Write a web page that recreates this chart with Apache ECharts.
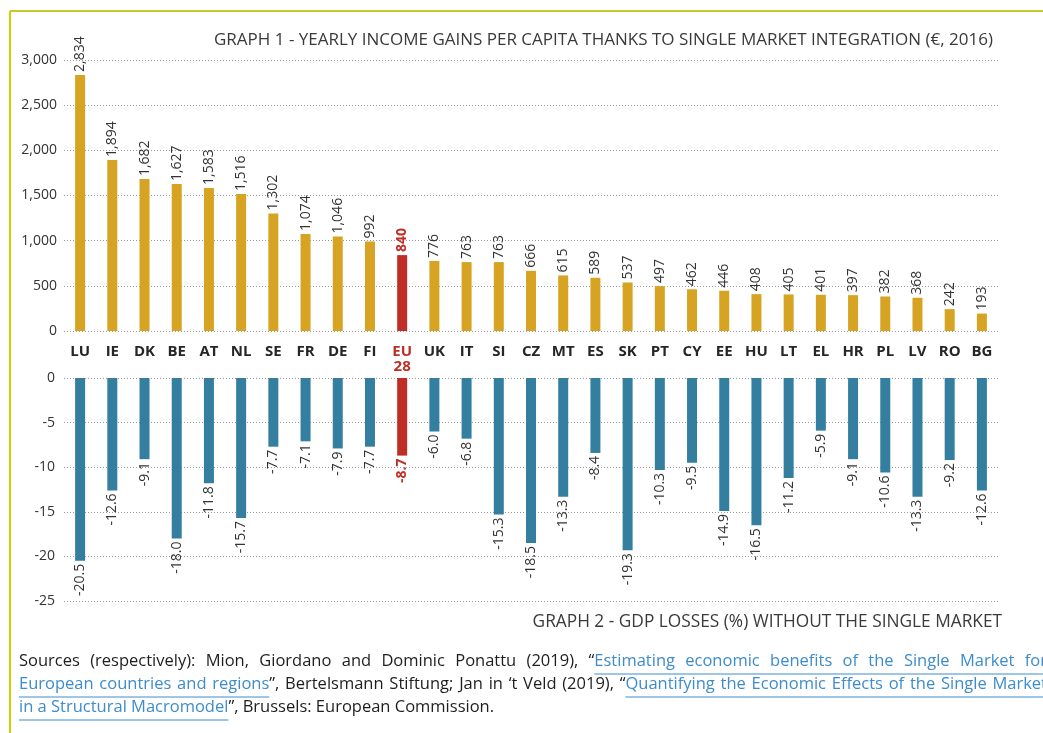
<!DOCTYPE html>
<html>
<head>
<meta charset="utf-8">
<script src="https://cdn.jsdelivr.net/npm/echarts@6/dist/echarts.min.js"></script>
<style>
  html, body { margin: 0; padding: 0; background: #fff; }
  #chart { width: 1043px; height: 733px; }
</style>
</head>
<body>
<div id="chart"></div>
<script>
// country codes, EU28 is the average
var countries = ['LU', 'IE', 'DK', 'BE', 'AT', 'NL', 'SE', 'FR', 'DE', 'FI', 'EU28', 'UK', 'IT', 'SI', 'CZ',
    'MT', 'ES', 'SK', 'PT', 'CY', 'EE', 'HU', 'LT', 'EL', 'HR', 'PL', 'LV', 'RO', 'BG'];

// graph 1 - yearly income gains per capita (€, 2016)
var incomeGains = [2834, 1894, 1682, 1627, 1583, 1516, 1302, 1074, 1046, 992, 840, 776, 763, 763, 666,
    615, 589, 537, 497, 462, 446, 408, 405, 401, 397, 382, 368, 242, 193];

// graph 2 - GDP losses (%) without the single market
var gdpLosses = [-20.5, -12.6, -9.1, -18.0, -11.8, -15.7, -7.7, -7.1, -7.9, -7.7, -8.7, -6.0, -6.8, -15.3, -18.5,
    -13.3, -8.4, -19.3, -10.3, -9.5, -14.9, -16.5, -11.2, -5.9, -9.1, -10.6, -13.3, -9.2, -12.6];

var incomeTicks = [0, 3000, 500];
var gdpTicks = [-25, 0, 5];

// sources note, [ ] marks the linked (underlined) parts
var sourceLines = [
    'Sources (respectively): Mion, Giordano and Dominic Ponattu (2019), “[Estimating economic benefits of the Single Market for]',
    '[European countries and regions]”, Bertelsmann Stiftung; Jan in ‘t Veld (2019), “[Quantifying the Economic Effects of the Single Market]',
    '[in a Structural Macromodel]”, Brussels: European Commission.'
];

var chart = echarts.init(document.getElementById('chart'));

var yellow = '#d6a422';
var blue = '#347f9f';
var red = '#bf2e26';
var font = '"Open Sans", "Noto Sans", sans-serif';
var linkColor = '#3d8ccc';
var textColor = '#1e1e1e';

function isEU(name) { return name === 'EU28'; }

var gridLine = { show: true, lineStyle: { color: '#9a9a9a', type: [1, 2], width: 1 } };

// lay out the sources note, first two lines justified like in the print
var noteFont = '16.5px ' + font;
var measure = document.createElement('canvas').getContext('2d');
measure.font = noteFont;

function parseWords(line) {
    var words = [], word = [], piece = '', link = false;
    function endPiece() {
        if (piece) word.push({ t: piece, link: link });
        piece = '';
    }
    for (var i = 0; i < line.length; i++) {
        var c = line[i];
        if (c === '[' || c === ']') {
            endPiece();
            link = c === '[';
        } else if (c === ' ') {
            endPiece();
            if (word.length) words.push(word);
            word = [];
        } else {
            piece += c;
        }
    }
    endPiece();
    if (word.length) words.push(word);
    return words;
}

function noteGraphics() {
    var out = [];
    var x0 = 19, x1 = 1047;
    var tops = [653, 676, 699];
    var spaceW = measure.measureText(' ').width;
    sourceLines.forEach(function (line, li) {
        var words = parseWords(line);
        var widths = words.map(function (w) {
            return w.reduce(function (s, p) { return s + measure.measureText(p.t).width; }, 0);
        });
        var total = widths.reduce(function (a, b) { return a + b; }, 0);
        var gap = li < 2 ? (x1 - x0 - total) / (words.length - 1) : spaceW;
        var x = x0, ulStart = null, ulEnd = null;
        var y = tops[li];
        words.forEach(function (w) {
            w.forEach(function (p) {
                var pw = measure.measureText(p.t).width;
                out.push({
                    type: 'text', x: x, y: y,
                    style: { text: p.t, fill: p.link ? linkColor : textColor, font: noteFont }
                });
                if (p.link) {
                    if (ulStart === null) ulStart = x;
                    ulEnd = x + pw;
                } else if (ulStart !== null) {
                    out.push({ type: 'line', shape: { x1: ulStart, y1: y + 21, x2: ulEnd, y2: y + 21 }, style: { stroke: linkColor, lineWidth: 1 } });
                    ulStart = null;
                }
                x += pw;
            });
            x += gap;
        });
        if (ulStart !== null) {
            out.push({ type: 'line', shape: { x1: ulStart, y1: y + 21, x2: ulEnd, y2: y + 21 }, style: { stroke: linkColor, lineWidth: 1 } });
        }
    });
    return out;
}

chart.setOption({
    animation: false,
    textStyle: { fontFamily: font },
    title: [{
        text: 'GRAPH 1 - YEARLY INCOME GAINS PER CAPITA THANKS TO SINGLE MARKET INTEGRATION (€, 2016)',
        right: 45,
        top: 27,
        textStyle: { fontSize: 17, fontWeight: 'normal', color: '#3a3a3a', fontFamily: font }
    }, {
        text: 'GRAPH 2 - GDP LOSSES (%) WITHOUT THE SINGLE MARKET',
        right: 36,
        top: 609,
        textStyle: { fontSize: 17.3, fontWeight: 'normal', color: '#3a3a3a', fontFamily: font }
    }],
    grid: [
        { left: 64, right: 45, top: 60, height: 271 },
        { left: 64, right: 45, top: 378, height: 223 }
    ],
    xAxis: [{
        type: 'category',
        gridIndex: 0,
        data: countries,
        axisLine: { show: false },
        axisTick: { show: false },
        axisLabel: {
            interval: 0,
            margin: 13,
            verticalAlign: 'top',
            fontSize: 15,
            fontWeight: 'bold',
            color: '#262626',
            lineHeight: 15,
            formatter: function (v) {
                return isEU(v) ? '{r|EU}\n{r|28}' : v;
            },
            rich: {
                r: { color: red, fontSize: 15, fontWeight: 'bold', lineHeight: 15 }
            }
        }
    }, {
        type: 'category',
        gridIndex: 1,
        data: countries,
        axisLine: { show: false },
        axisTick: { show: false },
        axisLabel: { show: false }
    }],
    yAxis: [{
        type: 'value',
        gridIndex: 0,
        min: incomeTicks[0],
        max: incomeTicks[1],
        interval: incomeTicks[2],
        axisLine: { show: false },
        axisTick: { show: false },
        splitLine: gridLine,
        axisLabel: {
            margin: 7,
            fontSize: 14,
            color: '#333',
            formatter: function (v) { return v.toLocaleString('en-US'); }
        }
    }, {
        type: 'value',
        gridIndex: 1,
        min: gdpTicks[0],
        max: gdpTicks[1],
        interval: gdpTicks[2],
        axisLine: { show: false },
        axisTick: { show: false },
        splitLine: gridLine,
        axisLabel: { margin: 9, fontSize: 14, color: '#333' }
    }],
    series: [{
        type: 'bar',
        xAxisIndex: 0,
        yAxisIndex: 0,
        barWidth: 10,
        data: incomeGains.map(function (v, i) {
            var eu = isEU(countries[i]);
            return {
                value: v,
                itemStyle: { color: eu ? red : yellow },
                label: eu ? { color: red, fontWeight: 'bold' } : undefined
            };
        }),
        label: {
            show: true,
            position: 'top',
            distance: 3,
            rotate: 90,
            align: 'left',
            verticalAlign: 'middle',
            fontSize: 14,
            color: '#333',
            formatter: function (p) { return p.value.toLocaleString('en-US'); }
        }
    }, {
        type: 'bar',
        xAxisIndex: 1,
        yAxisIndex: 1,
        barWidth: 10,
        data: gdpLosses.map(function (v, i) {
            var eu = isEU(countries[i]);
            return {
                value: v,
                itemStyle: { color: eu ? red : blue },
                label: eu ? { color: red, fontWeight: 'bold' } : undefined
            };
        }),
        label: {
            show: true,
            position: 'bottom',
            distance: 3,
            rotate: 90,
            align: 'right',
            verticalAlign: 'middle',
            fontSize: 14,
            color: '#333',
            formatter: function (p) { return p.value.toFixed(1); }
        }
    }],
    graphic: [
        // frame lines
        { type: 'line', shape: { x1: 10, y1: 11, x2: 1043, y2: 11 }, style: { stroke: '#c5c92a', lineWidth: 2 } },
        { type: 'line', shape: { x1: 10, y1: 11, x2: 10, y2: 733 }, style: { stroke: '#d0d000', lineWidth: 2 } }
    ].concat(noteGraphics())
});

window.addEventListener('resize', function () {
    chart.resize();
});
</script>
</body>
</html>
